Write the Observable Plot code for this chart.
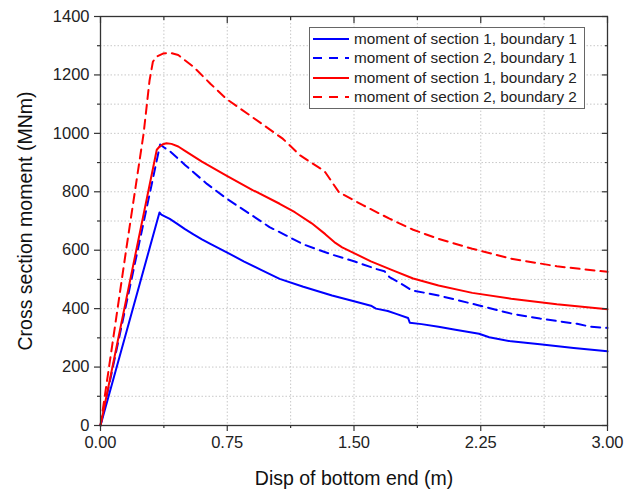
<!DOCTYPE html>
<html><head><meta charset="utf-8">
<script src="https://cdn.jsdelivr.net/npm/d3@7"></script>
<script src="https://cdn.jsdelivr.net/npm/@observablehq/plot@0.6"></script>
<style>
body{margin:0;background:#fff;font-family:"Liberation Sans",Arial,sans-serif;}
#wrap{position:relative;width:640px;height:492px;}
#legend{position:absolute;left:309px;top:27px;width:276px;height:82px;border:1px solid #666;background:#fff;font-size:15.3px;color:#222;box-sizing:border-box;padding:1px 0 0 2px;}
.row{display:flex;align-items:center;height:19.5px;white-space:nowrap;}
.row svg{margin-right:4px;flex:none;}
</style></head>
<body><div id="wrap"><div id="chart"></div><div id="legend"></div></div>
<script>
const seriesNames = ["moment of section 1, boundary 1","moment of section 2, boundary 1","moment of section 1, boundary 2","moment of section 2, boundary 2"];
const seriesColors = ["#0000ff","#0000ff","#ff0000","#ff0000"];
const seriesDash = ["none","9,6","none","9,6"];

const s1b1_x = [0,0.349,0.36,0.38,0.41,0.45,0.5,0.55,0.6,0.65,0.75,0.85,0.95,1.06,1.2,1.37,1.5,1.6,1.63,1.7,1.75,1.82,1.83,1.9,2.0,2.1,2.24,2.3,2.43,2.6,2.8,3.0];
const s1b1_y = [0,729,722,716,707,692,672,654,637,622,592,561,533,502,475,445,425,410,400,392,382,368,352,347,338,328,314,302,288,278,265,254];

const s2b1_x = [0,0.353,0.38,0.41,0.5,0.63,0.75,0.9,1.0,1.06,1.2,1.37,1.5,1.63,1.68,1.71,1.75,1.8,1.84,2.0,2.24,2.43,2.6,2.82,2.9,3.0];
const s2b1_y = [0,962,950,939,892,827,775,718,679,662,620,585,562,536,528,508,495,478,463,445,411,383,366,348,338,334];

const s1b2_x = [0,0.333,0.35,0.37,0.39,0.42,0.46,0.5,0.6,0.745,0.9,1.06,1.15,1.25,1.33,1.39,1.43,1.5,1.6,1.73,1.85,2.0,2.2,2.43,2.7,3.0];
const s1b2_y = [0,944,955,963,966,964,955,940,903,855,806,759,730,692,655,625,610,590,562,531,503,479,454,434,415,398];

const s2b2_x = [0,0.153,0.255,0.29,0.31,0.33,0.37,0.41,0.46,0.55,0.65,0.745,0.9,1.08,1.18,1.3,1.33,1.41,1.55,1.71,1.85,2.0,2.2,2.43,2.7,3.0];
const s2b2_y = [0,606,999,1180,1245,1262,1273,1276,1268,1228,1170,1118,1055,981,925,880,867,799,755,708,670,639,605,571,545,526];

const xTicks = [0,0.75,1.5,2.25,3.0];
const xMinor = [0.375,1.125,1.875,2.625];
const yTicks = [0,200,400,600,800,1000,1200,1400];
const yMinor = [100,300,500,700,900,1100,1300];

const seriesX = [s1b1_x,s2b1_x,s1b2_x,s2b2_x];
const seriesY = [s1b1_y,s2b1_y,s1b2_y,s2b2_y];
const data = [];
seriesX.forEach((xs,i)=>xs.forEach((x,j)=>data.push({s:i,x,y:seriesY[i][j]})));

const allX = xTicks.concat(xMinor), allY = yTicks.concat(yMinor);
const gridStyle = {stroke:"#c8c8c8", strokeOpacity:1, strokeDasharray:"1.5,2", strokeWidth:1};
const tickStyle = {stroke:"#333", strokeWidth:1.2};

const chart = Plot.plot({
  width:640, height:492,
  marginLeft:100, marginRight:33, marginTop:16, marginBottom:67,
  style:{fontFamily:"'Liberation Sans',Arial,sans-serif", fontSize:"16.5px", color:"#222", background:"#fff"},
  x:{domain:[0,3]},
  y:{domain:[0,1400]},
  marks:[
    Plot.gridX(allX, gridStyle),
    Plot.gridY(allY, gridStyle),
    ...[0,1,2,3].map(i=>Plot.line(data.filter(d=>d.s===i),{x:"x",y:"y",stroke:seriesColors[i],strokeWidth:2,curve:"linear",strokeLinejoin:"round",strokeDasharray:seriesDash[i]==="none"?null:seriesDash[i]})),
    Plot.axisX(xTicks,{anchor:"bottom",tickSize:6,tickPadding:5,tickFormat:d=>d.toFixed(2),label:null,fontSize:16.5,...tickStyle}),
    Plot.axisX(xMinor,{anchor:"bottom",tickSize:3,tickFormat:()=>"",label:null,...tickStyle}),
    Plot.axisX(xTicks,{anchor:"top",tickSize:6,dy:6,tickFormat:()=>"",label:null,...tickStyle}),
    Plot.axisX(xMinor,{anchor:"top",tickSize:3,dy:3,tickFormat:()=>"",label:null,...tickStyle}),
    Plot.axisY(yTicks,{anchor:"left",tickSize:6,tickPadding:5,tickFormat:d=>String(d),label:null,fontSize:16.5,...tickStyle}),
    Plot.axisY(yMinor,{anchor:"left",tickSize:3,tickFormat:()=>"",label:null,...tickStyle}),
    Plot.axisY(yTicks,{anchor:"right",tickSize:6,dx:-6,tickFormat:()=>"",label:null,...tickStyle}),
    Plot.axisY(yMinor,{anchor:"right",tickSize:3,dx:-3,tickFormat:()=>"",label:null,...tickStyle}),
    Plot.frame({stroke:"#333",strokeWidth:1.3}),
    Plot.text(["Disp of bottom end (m)"],{frameAnchor:"bottom",lineAnchor:"middle",dy:53,fontSize:19.5,fill:"#111"}),
    Plot.text(["Cross section moment (MNm)"],{frameAnchor:"left",textAnchor:"middle",lineAnchor:"middle",dx:-75,rotate:-90,fontSize:19.5,fill:"#111"})
  ]
});
document.getElementById("chart").appendChild(chart);

const leg = document.getElementById("legend");
seriesNames.forEach((n,i)=>{
  const r=document.createElement("div");r.className="row";
  r.innerHTML=`<svg width="38" height="8"><line x1="1" y1="4" x2="37" y2="4" stroke="${seriesColors[i]}" stroke-width="2" ${seriesDash[i]==="none"?"":'stroke-dasharray="9,7"'}/></svg><span>${n}</span>`;
  leg.appendChild(r);
});
</script></body></html>
